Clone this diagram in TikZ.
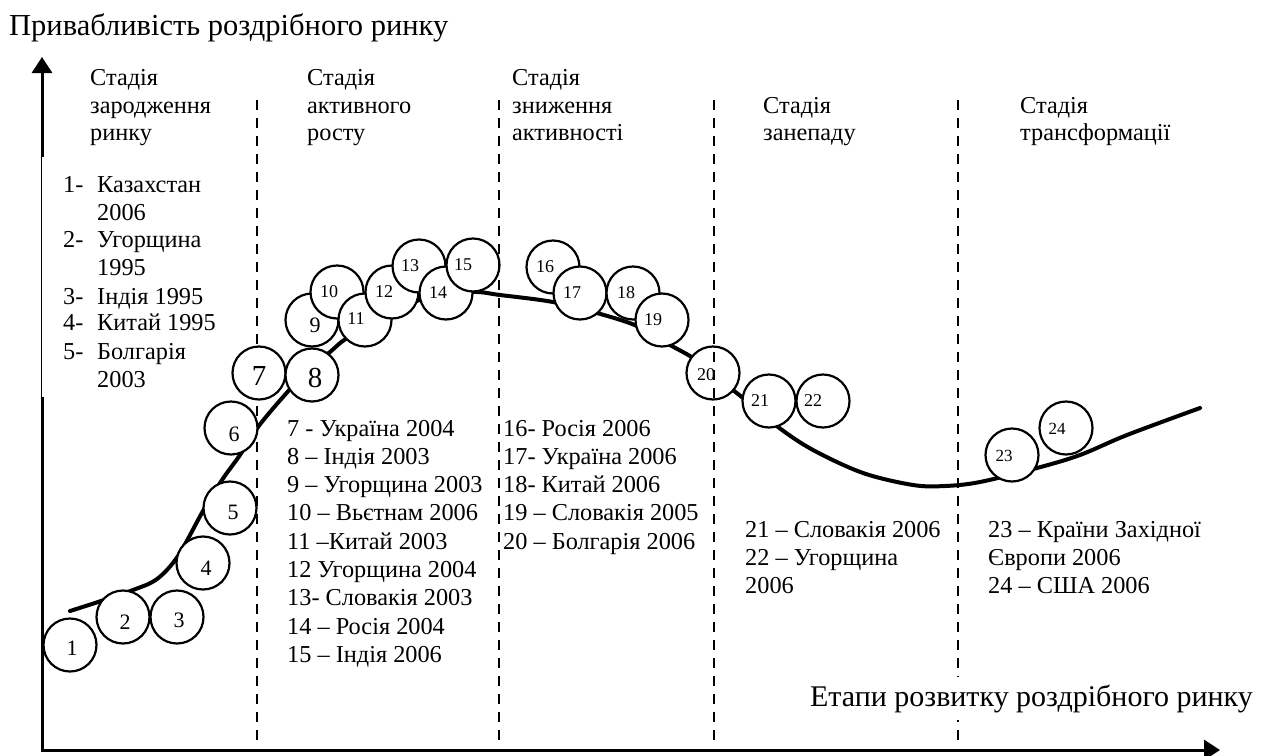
\documentclass[tikz,border=0pt]{standalone}
\usepackage{fontspec}
\setmainfont{Liberation Serif}
\usetikzlibrary{arrows.meta}
\newcommand\txtsize{\fontsize{24.3}{28}\selectfont}
\newcommand\titlesize{\fontsize{30.5}{36}\selectfont}
\newcommand\axsize{\fontsize{30}{35}\selectfont}
\begin{document}
\begin{tikzpicture}[x=1pt,y=-1pt,
  ball/.style={circle, draw, line width=2.2pt, fill=white, minimum size=53pt, inner sep=0pt},
  ballnum/.style={inner sep=0pt},
  txt/.style={font=\txtsize, inner sep=0pt, anchor=base west},
  divider/.style={line width=2.2pt, dash pattern=on 10pt off 8pt},
  axis/.style={line width=3pt},
  lifecurve/.style={line width=4pt, line cap=round},
  textpanel/.style={fill=white}]
\useasboundingbox (0,0) rectangle (1263,755);

% axes
\coordinate (O) at (42,750);
\coordinate (ytip) at (42,57);
\coordinate (xtip) at (1220,750);
\draw[axis, {Triangle[length=16pt,width=20pt]}-{Triangle[length=16pt,width=20pt]}]
  (ytip) -- (O) -- (xtip);

\node[font=\titlesize, inner sep=0pt, anchor=base west] (ylabel) at (9,35) {Привабливість роздрібного ринку};

% white text panels of the legends (they trim the lines they overlap)
\coordinate (p1a) at (42.3,157); \coordinate (p1b) at (222,397);

% first stage boundary (under the circles)
\coordinate (d1t) at (257,100); \coordinate (d1b) at (257,742);
\draw[divider] (d1t) -- (d1b);

% the life-cycle curve
\draw[lifecurve] plot[smooth, tension=0.55] coordinates {
  (70,611) (98,602) (133,590) (157,579) (178,556) (203,511) (222,480)
  (240,455) (258,427) (283,397) (310,368) (330,352) (347,338) (390,312)
  (430,297) (473,292) (500,295) (553,302) (597,313) (637,326) (670,345)
  (693,358) (715,376) (743,398) (778,427) (813,450) (863,473) (913,485)
  (945,486) (980,482) (1037,468) (1080,455) (1127,435) (1200,408)};

% country circles
\foreach \n/\x/\y/\dx/\dy/\s in {
  1/70/645/2/3/22, 2/123/617/2/5/22, 3/177/617/2/3/22, 4/203/563/3/5/22,
  5/230/508/3/4/22, 6/231/428/3/6/22, 7/259/373/0/3/29, 9/312/320/3/5/22,
  8/312/375/3/3/29, 10/337/292/-8/0/18, 11/365/320/-9/-1/18,
  12/392/292/-8/0/18, 13/419/266/-9/0/18, 14/446/293/-8/0/18,
  15/473/265/-10/0/18, 16/553/267/-8/0/18, 17/580/293/-8/0/18,
  18/633/293/-7/0/18, 19/662/320/-9/0/18, 20/713/373/-7/2/18,
  21/769/401/-9/0/18, 22/823/401/-10/0/18, 23/1012/455/-8/1/17,
  24/1066/428/-9/1/17}{
  \node[ball] (c\n) at (\x,\y) {};
  \node[ballnum, font=\fontsize{\s}{\s}\selectfont] (t\n) at ([shift={(\dx,\dy)}]c\n.center) {\n};
}

% remaining stage boundaries
\coordinate (d2t) at (499,100); \coordinate (d2b) at (499,742);
\coordinate (d3t) at (714,100); \coordinate (d3b) at (714,742);
\coordinate (d4t) at (958,100); \coordinate (d4b) at (958,742);
\draw[divider] (d2t) -- (d2b);
\draw[divider] (d3t) -- (d3b);
\draw[divider] (d4t) -- (d4b);

\fill[textpanel] (p1a) rectangle (p1b);
\fill[textpanel] (499.6,400) rectangle (700,690);

\node[font=\axsize, fill=white, inner xsep=4pt, inner ysep=8pt, anchor=base east] (xlabel) at (1257,706) {Етапи розвитку роздрібного ринку};

% stage titles
\node[txt] (h1a) at (90,85) {Стадія};
\node[txt] (h1b) at (90,113) {зародження};
\node[txt] (h1c) at (90,140) {ринку};
\node[txt] (h2a) at (307,85) {Стадія};
\node[txt] (h2b) at (307,113) {активного};
\node[txt] (h2c) at (307,140) {росту};
\node[txt] (h3a) at (512,85) {Стадія};
\node[txt] (h3b) at (512,113) {зниження};
\node[txt] (h3c) at (512,140) {активності};
\node[txt] (h4a) at (763,113) {Стадія};
\node[txt] (h4b) at (763,140) {занепаду};
\node[txt] (h5a) at (1020,113) {Стадія};
\node[txt] (h5b) at (1020,140) {трансформації};

% legend of the first stage
\foreach \t/\y [count=\i] in {1-/192, 2-/247, 3-/304, 4-/330, 5-/359}
  \node[txt] (k\i) at (63,\y) {\t};
\foreach \t/\y [count=\i] in {Казахстан/192, 2006/220, Угорщина/247, 1995/275,
  Індія 1995/304, Китай 1995/330, Болгарія/359, 2003/387}
  \node[txt] (a\i) at (97,\y) {\t};

% legend of the second stage
\foreach \t [count=\i] in {7 - Україна 2004, 8 – Індія 2003, 9 – Угорщина 2003,
  10 – Вьєтнам 2006, 11 –Китай 2003, 12 Угорщина 2004, 13- Словакія 2003,
  14 – Росія 2004, 15 – Індія 2006}
  \node[txt] (b\i) at (287,{436+(\i-1)*28.3}) {\t};

% legend of the third stage
\foreach \t [count=\i] in {16- Росія 2006, 17- Україна 2006, 18- Китай 2006,
  19 – Словакія 2005, 20 – Болгарія 2006}
  \node[txt] (e\i) at (503,{436+(\i-1)*28.3}) {\t};

% legend of the fourth stage
\foreach \t [count=\i] in {21 – Словакія 2006, 22 – Угорщина, 2006}
  \node[txt] (f\i) at (745,{537+(\i-1)*28}) {\t};

% legend of the fifth stage
\foreach \t [count=\i] in {23 – Країни Західної, Європи 2006, 24 – США 2006}
  \node[txt] (g\i) at (988,{537+(\i-1)*28}) {\t};
\end{tikzpicture}
\end{document}
